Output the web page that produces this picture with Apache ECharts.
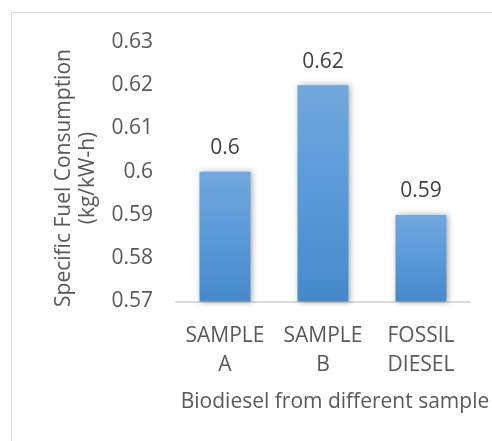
<!DOCTYPE html>
<html>
<head>
<meta charset="utf-8">
<script src="https://cdn.jsdelivr.net/npm/echarts@6/dist/echarts.min.js"></script>
<style>
  html, body { margin: 0; padding: 0; background: #fff; }
  #chart { width: 492px; height: 441px; }
</style>
</head>
<body>
<div id="chart"></div>
<script>
// Specific fuel consumption per fuel sample
const categories = ['SAMPLE\nA', 'SAMPLE\nB', 'FOSSIL\nDIESEL'];
const consumption = [0.60, 0.62, 0.59];
const yMin = 0.57;
const yMax = 0.63;
const yStep = 0.01;

const font = '"Open Sans", "Liberation Sans", sans-serif';
const textColor = '#595959';
const fs = 21;

const chart = echarts.init(document.getElementById('chart'), null, { renderer: 'canvas' });

chart.setOption({
  animation: false,
  backgroundColor: '#ffffff',
  grid: { left: 176, right: 22, top: 42, bottom: 139.5, containLabel: false },
  xAxis: {
    type: 'category',
    data: categories,
    axisLine: { show: true, lineStyle: { color: '#d9d9d9', width: 2 } },
    axisTick: { show: false },
    axisLabel: {
      color: textColor, fontFamily: font, fontSize: fs,
      lineHeight: 29, margin: 20, interval: 0
    }
  },
  yAxis: {
    type: 'value',
    min: yMin, max: yMax, interval: yStep,
    axisLine: { show: false },
    axisTick: { show: false },
    splitLine: { show: false },
    axisLabel: {
      color: textColor, fontFamily: font, fontSize: fs, margin: 23,
      formatter: v => String(+v.toFixed(2))
    }
  },
  series: [{
    type: 'bar',
    data: consumption,
    barWidth: 51,
    itemStyle: {
      color: new echarts.graphic.LinearGradient(0, 0, 0, 1, [
        { offset: 0, color: '#71a7dc' },
        { offset: 0.5, color: '#5a9ad8' },
        { offset: 1, color: '#4689cb' }
      ]),
      shadowColor: 'rgba(0,0,0,0.35)',
      shadowBlur: 6,
      shadowOffsetX: 1,
      shadowOffsetY: 0
    },
    label: {
      show: true, position: 'top', distance: 13,
      color: '#404040', fontFamily: font, fontSize: fs,
      formatter: p => String(+p.value.toFixed(2))
    }
  }],
  graphic: [
    {
      type: 'rect',
      shape: { x: 11.5, y: 12.5, width: 520, height: 460 },
      style: { fill: 'none', stroke: '#d9d9d9', lineWidth: 1 },
      silent: true
    },
    {
      type: 'text',
      x: 76, y: 178,
      rotation: Math.PI / 2,
      style: {
        text: 'Specific Fuel Consumption\n(kg/kW-h)',
        fill: textColor, font: fs + 'px ' + font,
        align: 'center', verticalAlign: 'middle', lineHeight: 24
      }
    },
    {
      type: 'text',
      x: 335, y: 402,
      style: {
        text: 'Biodiesel from different sample',
        fill: textColor, font: fs + 'px ' + font,
        align: 'center', verticalAlign: 'middle'
      }
    }
  ]
});
</script>
</body>
</html>
